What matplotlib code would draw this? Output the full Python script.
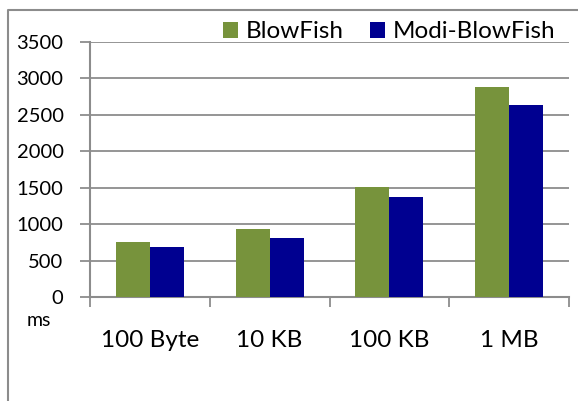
import matplotlib
matplotlib.use("Agg")
import matplotlib.pyplot as plt
from matplotlib.lines import Line2D
import numpy as np

categories = ["100 Byte", "10 KB", "100 KB", "1 MB"]
blowfish = [755, 930, 1515, 2880]
modi_blowfish = [690, 812, 1375, 2632]
series_names = ["BlowFish", "Modi-BlowFish"]
y_ticks = [0, 500, 1000, 1500, 2000, 2500, 3000, 3500]

plt.rcParams['font.family'] = ['Lato', 'DejaVu Sans']

W, H = 578, 401
fig = plt.figure(figsize=(W/100, H/100), dpi=100)
ax = fig.add_axes([90/W, 1-297/H, (569-90)/W, (297-42)/H])

GREEN = "#77933C"
BLUE = "#000090"
GRID = "#8c8c8c"

x = np.arange(len(categories))
w = 0.284
ax.bar(x - w/2, blowfish, w, color=GREEN, label=series_names[0], zorder=3)
ax.bar(x + w/2, modi_blowfish, w, color=BLUE, label=series_names[1], zorder=3)

ax.set_xlim(-0.5, len(categories) - 0.5)
ax.set_ylim(0, 3500)
ax.set_yticks(y_ticks)
ax.set_yticklabels([str(v) for v in y_ticks], fontsize=14.5)
ax.yaxis.grid(True, color=GRID, linewidth=1.3, zorder=0)
ax.set_axisbelow(True)

ax.set_xticks(x)
ax.set_xticklabels(categories, fontsize=17.5)
ax.set_xticks(np.arange(-0.5, len(categories)), minor=True)
ax.tick_params(axis='x', which='major', length=0, pad=24)
ax.tick_params(axis='x', which='minor', length=7, width=1.3, color=GRID, direction='out')
ax.tick_params(axis='y', length=7, width=1.3, color=GRID, pad=12)

for s in ['top', 'right']:
    ax.spines[s].set_visible(False)
for s in ['left', 'bottom']:
    ax.spines[s].set_color(GRID)
    ax.spines[s].set_linewidth(1.5)

fig.text(27/W, 1-320/H, "ms", fontsize=14, ha='left', va='center')

leg = fig.legend(loc='center', bbox_to_anchor=(389/W, 1-32/H), ncol=2,
                 frameon=False, fontsize=17.5, handlelength=0.62, handleheight=0.62,
                 handletextpad=0.3, columnspacing=1.1, borderpad=0, borderaxespad=0)

fig.add_artist(Line2D([8/W, 8/W, 1.0], [0.0, 1-10/H, 1-10/H], transform=fig.transFigure,
                      color=GRID, linewidth=1.5))

fig.savefig("out.png", dpi=100)
